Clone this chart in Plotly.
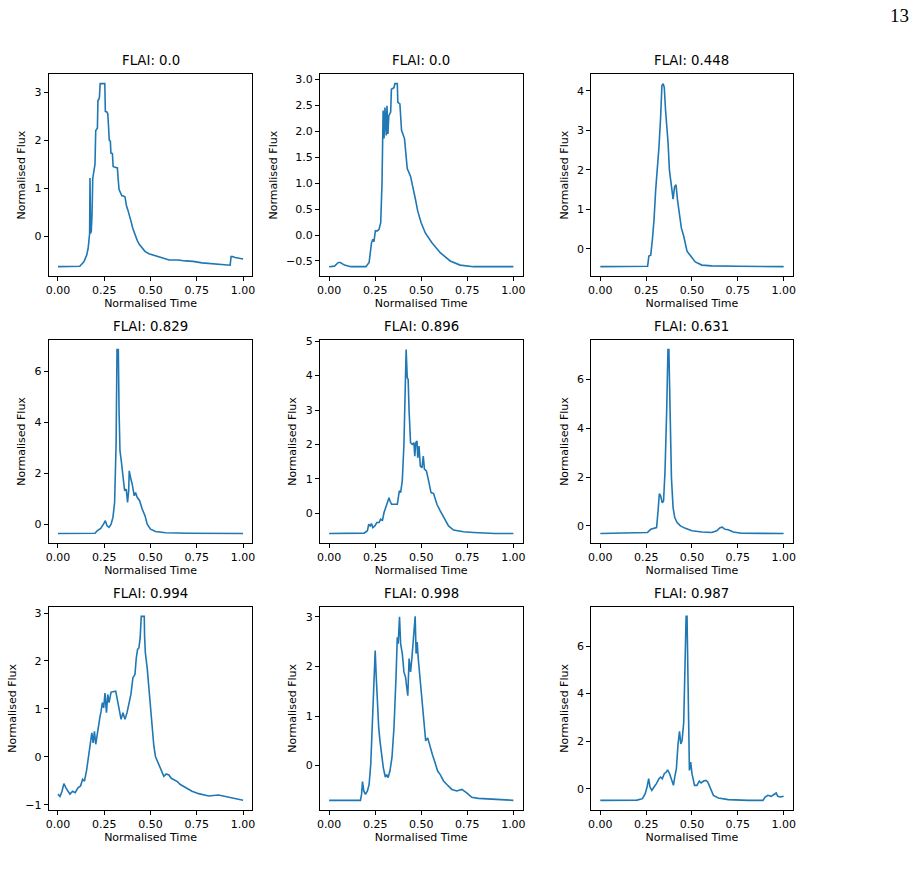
import plotly.graph_objects as go

# ---------------- data ----------------
titles = ["FLAI: 0.0", "FLAI: 0.0", "FLAI: 0.448",
          "FLAI: 0.829", "FLAI: 0.896", "FLAI: 0.631",
          "FLAI: 0.994", "FLAI: 0.998", "FLAI: 0.987"]

time_1 = [0, 0.05, 0.10, 0.118, 0.14, 0.155, 0.163, 0.168, 0.171, 0.173, 0.176, 0.18, 0.184, 0.188, 0.195, 0.20,
          0.204, 0.21, 0.213, 0.216, 0.221, 0.224, 0.228, 0.253, 0.256, 0.264, 0.269, 0.273, 0.277, 0.283, 0.286,
          0.294, 0.298, 0.304, 0.321, 0.325, 0.33, 0.345, 0.35, 0.362, 0.366, 0.37, 0.377, 0.384, 0.395, 0.405,
          0.415, 0.428, 0.44, 0.455, 0.47, 0.491, 0.52, 0.545, 0.575, 0.60, 0.65, 0.688, 0.73, 0.778, 0.82, 0.867,
          0.90, 0.93, 0.935, 0.943, 0.957, 0.98, 1.0]
flux_1 = [-0.64, -0.64, -0.64, -0.63, -0.54, -0.40, -0.26, -0.10, 0.05, 1.21, 0.05, 0.10, 0.45, 1.20, 1.45, 1.50,
          2.20, 2.24, 2.25, 2.83, 2.85, 2.90, 3.18, 3.18, 2.60, 2.59, 2.55, 2.30, 2.00, 1.98, 1.73,
          1.72, 1.45, 1.44, 1.42, 1.20, 0.97, 0.84, 0.84, 0.82, 0.70, 0.63, 0.55, 0.43, 0.30, 0.15,
          0.03, -0.09, -0.18, -0.26, -0.32, -0.37, -0.41, -0.43, -0.47, -0.50, -0.50, -0.52, -0.53, -0.56, -0.57, -0.59,
          -0.60, -0.61, -0.43, -0.43, -0.45, -0.46, -0.48]

time_2 = [0, 0.029, 0.05, 0.061, 0.083, 0.118, 0.16, 0.20, 0.217, 0.23, 0.237, 0.243, 0.251, 0.262, 0.271, 0.28,
          0.287, 0.293, 0.298, 0.303, 0.31, 0.314, 0.319, 0.324, 0.334, 0.338, 0.352, 0.357, 0.37, 0.373, 0.384,
          0.393, 0.409, 0.424, 0.442, 0.46, 0.469, 0.481, 0.499, 0.522, 0.558, 0.603, 0.657, 0.711, 0.783, 0.9, 1.0]
flux_2 = [-0.61, -0.60, -0.53, -0.53, -0.58, -0.61, -0.61, -0.61, -0.53, -0.15, -0.08, -0.13, 0.08, 0.08, 0.11, 0.24,
          1.00, 2.40, 1.86, 2.46, 1.92, 2.49, 1.95, 2.30, 2.37, 2.81, 2.84, 2.92, 2.92, 2.56, 2.53,
          2.02, 1.86, 1.28, 1.13, 0.78, 0.68, 0.46, 0.24, 0.04, -0.15, -0.34, -0.50, -0.58, -0.61, -0.61, -0.61]

time_3 = [0, 0.1, 0.2, 0.258, 0.265, 0.275, 0.284, 0.293, 0.302, 0.311, 0.32, 0.329, 0.336, 0.343, 0.349, 0.356,
          0.365, 0.37, 0.377, 0.388, 0.397, 0.405, 0.413, 0.421, 0.428, 0.442, 0.455, 0.473, 0.491, 0.518, 0.554,
          0.608, 0.75, 0.9, 1.0]
flux_3 = [-0.45, -0.45, -0.45, -0.44, -0.18, -0.16, 0.23, 0.74, 1.49, 1.99, 2.58, 3.33, 4.13, 4.18, 4.08, 3.50,
          3.08, 2.66, 1.99, 1.49, 1.26, 1.57, 1.62, 1.24, 0.99, 0.53, 0.32, -0.06, -0.17, -0.33, -0.41,
          -0.43, -0.44, -0.44, -0.45]

time_4 = [0, 0.1, 0.2, 0.213, 0.231, 0.246, 0.256, 0.265, 0.276, 0.287, 0.297, 0.306, 0.314, 0.319, 0.326, 0.33,
          0.335, 0.342, 0.351, 0.36, 0.369, 0.376, 0.382, 0.385, 0.392, 0.401, 0.412, 0.419, 0.428, 0.441, 0.455,
          0.47, 0.482, 0.50, 0.527, 0.581, 0.7, 0.85, 1.0]
flux_4 = [-0.37, -0.37, -0.36, -0.26, -0.17, 0.0, 0.13, -0.07, -0.13, 0.0, 0.26, 0.85, 3.14, 6.86, 6.86, 4.44,
          2.88, 2.48, 1.83, 1.31, 1.37, 0.85, 1.31, 2.09, 1.83, 1.57, 1.11, 1.24, 1.05, 0.92, 0.59,
          0.33, 0.0, -0.20, -0.29, -0.34, -0.36, -0.37, -0.37]

time_5 = [0, 0.1, 0.19, 0.208, 0.215, 0.223, 0.23, 0.237, 0.248, 0.259, 0.271, 0.28, 0.289, 0.298, 0.312, 0.325,
          0.33, 0.339, 0.37, 0.381, 0.388, 0.397, 0.406, 0.413, 0.418, 0.424, 0.429, 0.434, 0.442, 0.451, 0.46,
          0.465, 0.47, 0.477, 0.481, 0.488, 0.495, 0.504, 0.511, 0.517, 0.528, 0.54, 0.553, 0.567, 0.585, 0.603,
          0.625, 0.648, 0.675, 0.729, 0.783, 0.9, 1.0]
flux_5 = [-0.59, -0.59, -0.58, -0.51, -0.32, -0.37, -0.30, -0.42, -0.37, -0.27, -0.27, -0.17, -0.22, 0.02, 0.26, 0.45,
          0.36, 0.26, 0.26, 0.65, 0.60, 0.94, 2.00, 3.94, 4.76, 3.94, 3.89, 2.97, 2.05, 2.00, 2.05,
          1.66, 2.05, 2.10, 1.61, 1.95, 1.37, 1.32, 1.66, 1.28, 1.23, 0.94, 0.60, 0.57, 0.26, 0.07,
          -0.13, -0.37, -0.49, -0.54, -0.56, -0.59, -0.59]

time_6 = [0, 0.158, 0.257, 0.275, 0.293, 0.307, 0.315, 0.322, 0.329, 0.338, 0.345, 0.353, 0.362, 0.369, 0.374, 0.379,
          0.388, 0.397, 0.406, 0.419, 0.437, 0.464, 0.50, 0.554, 0.608, 0.635, 0.653, 0.665, 0.68, 0.698, 0.725,
          0.77, 0.9, 1.0]
flux_6 = [-0.31, -0.28, -0.27, -0.14, -0.10, -0.07, 0.61, 1.32, 1.23, 0.95, 1.02, 2.25, 4.71, 7.23, 7.23, 4.71,
          1.98, 0.75, 0.34, 0.14, 0.0, -0.10, -0.20, -0.25, -0.27, -0.20, -0.07, -0.05, -0.14, -0.16, -0.25,
          -0.30, -0.31, -0.31]

time_7 = [0, 0.011, 0.022, 0.032, 0.043, 0.054, 0.065, 0.079, 0.093, 0.108, 0.122, 0.133, 0.143, 0.154, 0.165, 0.176,
          0.183, 0.19, 0.197, 0.204, 0.211, 0.219, 0.226, 0.233, 0.24, 0.247, 0.254, 0.262, 0.269, 0.276, 0.287,
          0.312, 0.321, 0.33, 0.341, 0.351, 0.362, 0.373, 0.384, 0.394, 0.405, 0.416, 0.423, 0.43, 0.437, 0.444,
          0.45, 0.466, 0.468, 0.472, 0.482, 0.491, 0.50, 0.509, 0.518, 0.527, 0.545, 0.56, 0.572, 0.585, 0.599,
          0.612, 0.626, 0.645, 0.661, 0.69, 0.724, 0.76, 0.814, 0.867, 0.921, 0.975, 1.0]
flux_7 = [-0.78, -0.83, -0.72, -0.56, -0.65, -0.72, -0.78, -0.72, -0.75, -0.65, -0.61, -0.47, -0.51, -0.30, -0.02, 0.33,
          0.50, 0.29, 0.53, 0.26, 0.47, 0.60, 0.81, 0.95, 1.13, 1.02, 1.33, 0.92, 1.30, 1.13, 1.35,
          1.37, 1.16, 0.95, 0.78, 0.92, 0.78, 0.92, 1.16, 1.30, 1.65, 1.72, 2.06, 2.24, 2.27, 2.48,
          2.93, 2.93, 2.50, 2.17, 1.85, 1.40, 0.95, 0.50, 0.22, 0.0, -0.17, -0.30, -0.41, -0.36, -0.38,
          -0.45, -0.48, -0.52, -0.58, -0.65, -0.72, -0.77, -0.82, -0.80, -0.85, -0.89, -0.91]

time_8 = [0, 0.1, 0.17, 0.176, 0.181, 0.188, 0.197, 0.208, 0.217, 0.226, 0.235, 0.244, 0.25, 0.255, 0.262, 0.269,
          0.276, 0.284, 0.294, 0.305, 0.312, 0.32, 0.33, 0.341, 0.352, 0.363, 0.37, 0.375, 0.382, 0.388, 0.397,
          0.406, 0.415, 0.42, 0.427, 0.434, 0.442, 0.449, 0.456, 0.461, 0.467, 0.472, 0.478, 0.483, 0.492, 0.503,
          0.513, 0.524, 0.535, 0.546, 0.56, 0.575, 0.589, 0.603, 0.621, 0.639, 0.666, 0.693, 0.72, 0.747, 0.774,
          0.81, 0.872, 0.926, 1.0]
flux_8 = [-0.70, -0.70, -0.70, -0.58, -0.32, -0.51, -0.58, -0.51, -0.38, 0.03, 0.77, 1.58, 2.32, 1.85, 1.24, 0.77,
          0.50, 0.20, -0.04, -0.23, -0.18, -0.24, -0.11, 0.16, 0.77, 1.78, 2.59, 2.46, 3.00, 2.46, 2.26,
          1.89, 1.78, 1.61, 1.41, 2.16, 1.89, 2.16, 2.46, 2.66, 3.01, 2.26, 2.49, 2.19, 1.78, 1.38,
          0.91, 0.50, 0.56, 0.40, 0.23, 0.06, -0.11, -0.18, -0.31, -0.38, -0.48, -0.51, -0.48, -0.55, -0.64,
          -0.66, -0.67, -0.68, -0.70]

time_9 = [0, 0.1, 0.2, 0.23, 0.245, 0.255, 0.264, 0.271, 0.281, 0.293, 0.306, 0.32, 0.329, 0.338, 0.349, 0.36,
          0.367, 0.378, 0.388, 0.399, 0.406, 0.415, 0.424, 0.432, 0.439, 0.446, 0.455, 0.462, 0.468, 0.473, 0.478,
          0.486, 0.493, 0.50, 0.514, 0.527, 0.54, 0.55, 0.563, 0.576, 0.586, 0.599, 0.617, 0.644, 0.698, 0.806,
          0.887, 0.899, 0.914, 0.932, 0.946, 0.959, 0.968, 0.982, 1.0]
flux_9 = [-0.49, -0.49, -0.48, -0.42, -0.21, 0.07, 0.42, 0.07, -0.07, 0.07, 0.21, 0.42, 0.49, 0.42, 0.63, 0.70,
          0.79, 0.63, 0.42, 0.14, 0.49, 0.84, 1.88, 2.41, 1.88, 2.02, 2.79, 4.67, 7.25, 7.25, 3.97,
          0.77, 1.12, 0.63, 0.14, 0.14, 0.32, 0.24, 0.32, 0.35, 0.28, 0.07, -0.28, -0.39, -0.46, -0.49,
          -0.49, -0.35, -0.28, -0.32, -0.24, -0.18, -0.32, -0.35, -0.32]

x_ticks = [0.0, 0.25, 0.5, 0.75, 1.0]
y_tick_steps = [1, 0.5, 1, 2, 1, 2, 1, 1, 2]
y_tick_formats = ["d", ".1f", "d", "d", "d", "d", "d", "d", "d"]

times = [time_1, time_2, time_3, time_4, time_5, time_6, time_7, time_8, time_9]
fluxes = [flux_1, flux_2, flux_3, flux_4, flux_5, flux_6, flux_7, flux_8, flux_9]

# ---------------- layout geometry ----------------
W, H = 919, 878
col_px = [(46, 251), (319, 523), (592, 795)]
row_px = [(70, 273), (338, 542), (607, 811)]

FONT = "DejaVu Sans"
LINE = "#1f77b4"

fig = go.Figure()
annotations = []
for i in range(9):
    r, c = divmod(i, 3)
    t, f = times[i], fluxes[i]
    assert len(t) == len(f), (i, len(t), len(f))
    n = i + 1
    xa = "x" if n == 1 else f"x{n}"
    ya = "y" if n == 1 else f"y{n}"
    fig.add_trace(go.Scatter(x=t, y=f, mode="lines", xaxis=xa, yaxis=ya,
                             line=dict(color=LINE, width=1.6), showlegend=False,
                             hoverinfo="skip"))
    x0, x1 = col_px[c]
    y0, y1 = row_px[r]
    xdom = [x0 / W, x1 / W]
    ydom = [1 - y1 / H, 1 - y0 / H]
    tmin, tmax = min(t), max(t)
    fmin, fmax = min(f), max(f)
    xr = [tmin - 0.05 * (tmax - tmin), tmax + 0.05 * (tmax - tmin)]
    yr = [fmin - 0.05 * (fmax - fmin), fmax + 0.05 * (fmax - fmin)]
    common = dict(showline=True, linecolor="black", linewidth=1, mirror=True,
                  ticks="outside", ticklen=4, tickwidth=1, tickcolor="black",
                  showgrid=False, zeroline=False,
                  tickfont=dict(family=FONT, size=11, color="black"))
    fig.layout[("xaxis" if n == 1 else f"xaxis{n}")] = dict(
        domain=xdom, anchor=ya, range=xr, tickvals=x_ticks, tickformat=".2f",
        title=dict(text="Normalised Time", font=dict(family=FONT, size=11, color="black"), standoff=3),
        **common)
    fig.layout[("yaxis" if n == 1 else f"yaxis{n}")] = dict(
        domain=ydom, anchor=xa, range=yr, dtick=y_tick_steps[i], tick0=0,
        tickformat=y_tick_formats[i],
        title=dict(text="Normalised Flux", font=dict(family=FONT, size=11, color="black"), standoff=6),
        **common)
    annotations.append(dict(text=titles[i], xref="paper", yref="paper",
                            x=(xdom[0] + xdom[1]) / 2, y=ydom[1], xanchor="center", yanchor="bottom",
                            yshift=4, showarrow=False,
                            font=dict(family=FONT, size=13.3, color="black")))

annotations.append(dict(text="13", xref="paper", yref="paper", x=914 / W, y=1,
                        xanchor="right", yanchor="top", yshift=2, showarrow=False,
                        font=dict(family="Liberation Serif", size=19, color="black")))

fig.update_layout(width=W, height=H, margin=dict(l=0, r=0, t=0, b=0),
                  paper_bgcolor="white", plot_bgcolor="white",
                  annotations=annotations, font=dict(family=FONT, color="black"))

fig.write_html("out.html")
